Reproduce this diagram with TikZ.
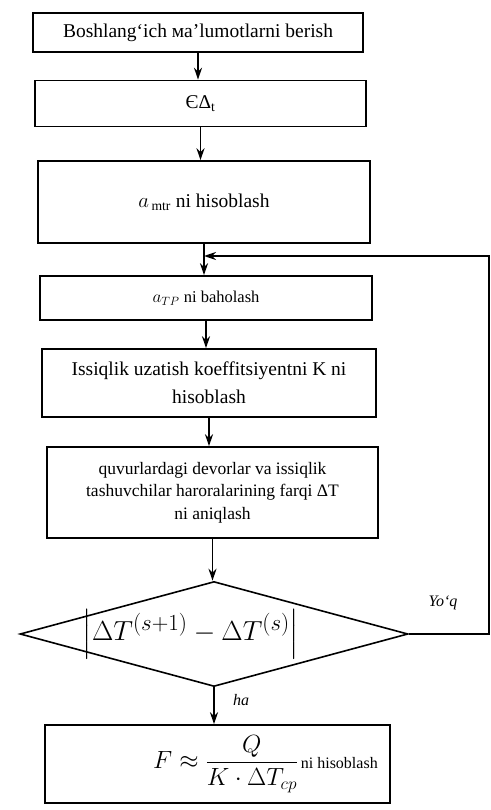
\documentclass[tikz,border=0pt]{standalone}
\usepackage{amsmath}
\usepackage{graphicx}
\usepackage{fontspec}
\setmainfont{Liberation Serif}
\usetikzlibrary{shapes.geometric,arrows.meta}
\begin{document}
\begin{tikzpicture}[x=1pt,y=-1pt,
  every node/.style={font=\fontsize{19.5}{28}\selectfont},
  box/.style={draw,line width=1.6pt,inner sep=2pt,align=center,anchor=center},
  link/.style={line width=1.6pt,-{Stealth[length=12pt,width=8pt]}},
  lbl/.style={font=\fontsize{16}{19}\selectfont\itshape}]
\useasboundingbox (0,0) rectangle (490,810);
\node[box,minimum width=330pt,minimum height=39pt] (b1) at (198,32.5) {Boshlang‘ich ма’lumotlarni berish};
\node[box,minimum width=331pt,minimum height=46pt] (b2) at (200.5,103.5) {ЄΔ\textsubscript{t}};
\node[box,minimum width=332pt,minimum height=82pt] (b3) at (204,202) {$a_{\,\mathrm{mtr}}$ ni hisoblash};
\node[box,minimum width=332pt,minimum height=44pt,font=\fontsize{16.5}{20}\selectfont] (b4) at (206,298) {$a_{TP}$ ni baholash};
\node[box,minimum width=334pt,minimum height=68pt] (b5) at (209,383) {Issiqlik uzatish koeffitsiyentni K ni\\hisoblash};
\node[box,minimum width=331pt,minimum height=91pt,font=\fontsize{17.5}{22.5}\selectfont] (b6) at (212.5,492.5) {quvurlardagi devorlar va issiqlik\\tashuvchilar haroralarining farqi ΔT\\ni aniqlash};
\node[draw,line width=1.6pt,diamond,aspect=3.7,inner sep=0pt,minimum width=388pt,minimum height=105pt,font=\fontsize{24.88}{30}\selectfont] (d) at (214,634) {\hspace*{-46pt}\scalebox{1.11}{$\left|\Delta T^{(s+1)}-\Delta T^{(s)}\right|$}};
\node[box,minimum width=345pt,minimum height=78pt,font=\fontsize{16}{20}\selectfont] (b7) at (217.5,764) {\hspace*{96pt}{\fontsize{24}{28}\selectfont$F\approx\dfrac{Q}{K\cdot\Delta T_{cp}}$}\,ni hisoblash};
\coordinate (c1) at (489,634);
\coordinate (c2) at (489,256);
\coordinate (c3) at (b3.south |- c2);
\node[lbl] (no) at (443,603) {Yo‘q};
\node[lbl] (yes) at (241,700) {ha};
\draw[link] (b1.south) -- (b1.south |- b2.north);
\draw[link] (b2.south) -- (b2.south |- b3.north);
\draw[link] (b3.south) -- (b3.south |- b4.north);
\draw[link] (b4.south) -- (b4.south |- b5.north);
\draw[link] (b5.south) -- (b5.south |- b6.north);
\draw[link] (b6.south) -- (b6.south |- d.north);
\draw[link] (d.south) -- (d.south |- b7.north);
\draw[link] (d.east) -- (c1) -- (c2) -- (c3);
\end{tikzpicture}
\end{document}
